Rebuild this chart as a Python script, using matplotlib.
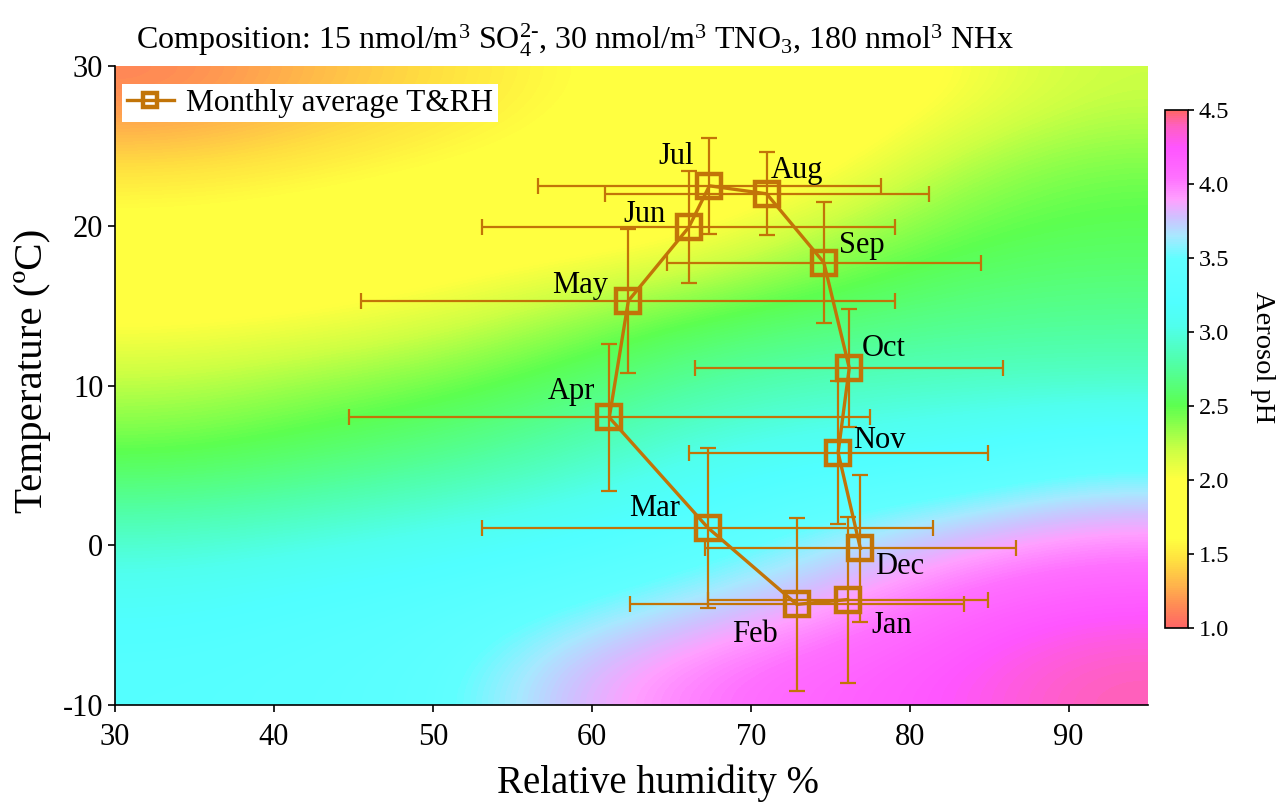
import numpy as np
import matplotlib
matplotlib.use("Agg")
import matplotlib.pyplot as plt
from matplotlib.colors import LinearSegmentedColormap

plt.rcParams['font.family'] = ['Liberation Serif', 'DejaVu Serif']
plt.rcParams['mathtext.fontset'] = 'custom'
plt.rcParams['mathtext.rm'] = 'Liberation Serif'
plt.rcParams['mathtext.it'] = 'Liberation Serif:italic'
plt.rcParams['axes.unicode_minus'] = False

# background pH field
rh_grid = [30, 40, 50, 60, 70, 80, 90, 95]
t_grid = [-10, -5, 0, 5, 10, 15, 20, 25, 30]
ph_grid = [
    [3.30, 3.35, 3.42, 3.80, 4.02, 4.15, 4.25, 4.42],
    [3.15, 3.25, 3.32, 3.45, 3.65, 3.85, 4.10, 4.20],
    [2.88, 2.95, 3.05, 3.15, 3.30, 3.55, 3.75, 3.90],
    [2.50, 2.60, 2.70, 2.85, 3.05, 3.15, 3.20, 3.40],
    [2.25, 2.35, 2.45, 2.60, 2.78, 2.88, 2.92, 2.92],
    [1.95, 2.00, 2.10, 2.30, 2.50, 2.60, 2.68, 2.72],
    [1.70, 1.75, 1.85, 1.90, 2.00, 2.30, 2.50, 2.55],
    [1.50, 1.55, 1.62, 1.70, 1.80, 1.95, 2.30, 2.45],
    [1.12, 1.30, 1.45, 1.60, 1.70, 1.80, 2.00, 2.20],
]

# monthly means and standard deviations
months = ['Jan', 'Feb', 'Mar', 'Apr', 'May', 'Jun',
          'Jul', 'Aug', 'Sep', 'Oct', 'Nov', 'Dec']
rh = [76.1, 72.9, 67.3, 61.1, 62.3, 66.1, 67.4, 71.0, 74.6, 76.2, 75.5, 76.9]
temp = [-3.4, -3.7, 1.1, 8.0, 15.3, 19.9, 22.5, 22.0, 17.7, 11.1, 5.8, -0.2]
rh_sd = [8.8, 10.5, 14.2, 16.4, 16.8, 13.0, 10.8, 10.2, 9.9, 9.7, 9.4, 9.8]
t_sd = [5.2, 5.4, 5.0, 4.6, 4.5, 3.5, 3.0, 2.6, 3.8, 3.7, 4.5, 4.6]

# label offsets (points)
offs = [(32, -19), (-30, -22), (-38, 14), (-27, 19), (-35, 11), (-32, 9),
        (-24, 21), (22, 17), (27, 12), (25, 14), (30, 9), (28, -13)]

cb_stops = [(1.0, '#FF6666'), (1.15, '#FF8C55'), (1.3, '#FFB84A'),
            (1.45, '#FFE040'), (1.6, '#FFFF40'), (2.0, '#FFFF40'),
            (2.2, '#CCFF44'), (2.5, '#5CFF50'), (2.8, '#50FFAA'),
            (3.05, '#50FFEE'), (3.2, '#50FFFF'), (3.5, '#60FFFF'),
            (3.65, '#A8E8FF'), (3.78, '#D0C0FF'), (3.9, '#FFA0FF'),
            (4.05, '#FF70FF'), (4.25, '#FF55FF'), (4.4, '#FF60C0'),
            (4.5, '#FF6666')]
vmin, vmax = 1.0, 4.5
cmap = LinearSegmentedColormap.from_list(
    'ph', [((v - vmin) / (vmax - vmin), c) for v, c in cb_stops])

col = '#C27408'

fig = plt.figure(figsize=(12.77, 8.05), dpi=100)
ax = fig.add_axes([0.0901, 0.1242, 0.8089, 0.7938])

im = ax.imshow(np.array(ph_grid), origin='lower', aspect='auto',
               extent=[rh_grid[0], rh_grid[-1], t_grid[0], t_grid[-1]],
               cmap=cmap, vmin=vmin, vmax=vmax, interpolation='bicubic')

ax.errorbar(rh, temp, xerr=rh_sd, yerr=t_sd, fmt='none', ecolor=col,
            elinewidth=1.6, capsize=6, capthick=1.6, zorder=3)
ax.plot(rh, temp, '-s', color=col, lw=2.4, ms=17, mfc='none', mew=3.2,
        zorder=4, label='Monthly average T&RH')

for m, x, y, o in zip(months, rh, temp, offs):
    ax.annotate(m, (x, y), xytext=o, textcoords='offset points',
                ha='center', va='center', fontsize=22, zorder=5)

ax.set_xlim(30, 95)
ax.set_ylim(-10, 30)
ax.set_xticks([30, 40, 50, 60, 70, 80, 90])
ax.set_yticks([-10, 0, 10, 20, 30])
ax.tick_params(labelsize=22, width=1.2, length=5)
ax.tick_params(axis='x', pad=8)
ax.set_xlabel('Relative humidity %', fontsize=28)
ax.xaxis.set_label_coords(0.526, -0.093)
ax.set_ylabel('Temperature (ºC)', fontsize=29.5)
ax.yaxis.set_label_coords(-0.062, 0.523)
for s in ['top', 'right']:
    ax.spines[s].set_visible(False)
ax.spines['left'].set_linewidth(1.2)
ax.spines['bottom'].set_linewidth(1.2)

ax.set_title(r'Composition: 15 nmol/m$^3$ SO$_4^{2\text{-}}$, 30 nmol/m$^3$ TNO$_3$, '
             r'180 nmol$^3$ NHx', fontsize=23, pad=12, x=0.445)

leg = ax.legend(loc='upper left', bbox_to_anchor=(0.0068, 0.972),
                borderaxespad=0, fontsize=22.5, frameon=True, fancybox=False,
                handlelength=1.5, borderpad=0.15, handletextpad=0.4,
                markerscale=0.6)
leg.get_frame().set_edgecolor('none')
leg.get_frame().set_facecolor('white')
leg.get_frame().set_alpha(1)

cax = fig.add_axes([1165 / 1277, 177 / 805, 23 / 1277, 518 / 805])
cb = fig.colorbar(im, cax=cax)
cb.set_ticks([1.0, 1.5, 2.0, 2.5, 3.0, 3.5, 4.0, 4.5])
cb.ax.tick_params(labelsize=17.5, width=1.2, length=4)
cb.outline.set_linewidth(1.2)
cb.set_label('Aerosol pH', fontsize=20.5, rotation=270)
cax.yaxis.set_label_coords(4.78, 0.523)

fig.savefig('out.png', dpi=100)
